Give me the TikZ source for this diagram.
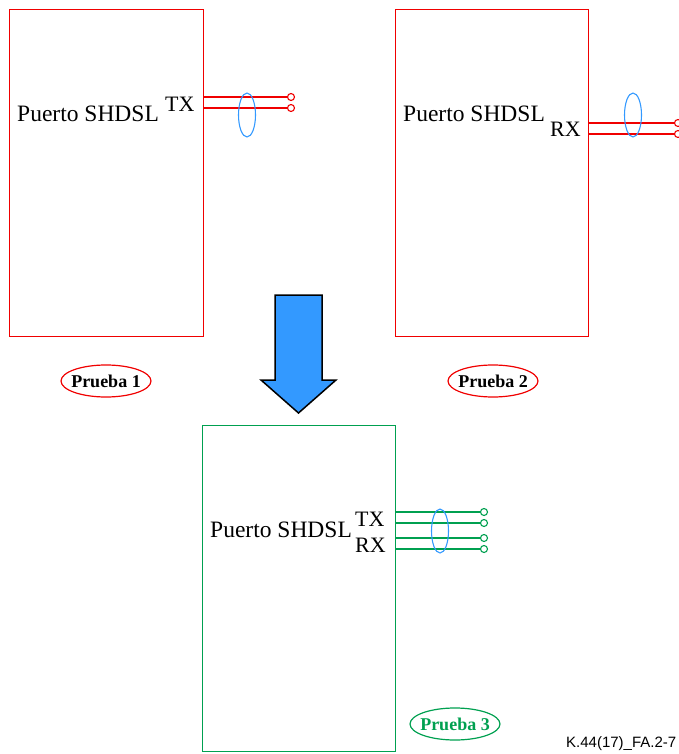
\documentclass[tikz,border=0pt]{standalone}
\usepackage{fontspec}
\setmainfont{Liberation Serif}
\newfontfamily\captionsans{Liberation Sans}
\usetikzlibrary{shapes.geometric}
\definecolor{portred}{RGB}{240,0,0}
\definecolor{portgreen}{RGB}{0,160,80}
\definecolor{pairblue}{RGB}{51,153,255}

\begin{document}
\begin{tikzpicture}[x=1pt,y=-1pt,
  portbox/.style={draw, line width=1.2pt, rectangle, anchor=north west, inner sep=0pt},
  porttext/.style={anchor=base west, inner sep=0pt, font=\fontsize{23.5}{28}\selectfont},
  sigtext/.style={anchor=base west, inner sep=0pt, font=\fontsize{22}{26}\selectfont},
  wire/.style={line width=1.2pt},
  terminal/.style={circle, draw, line width=1.1pt, fill=white, minimum size=7pt, inner sep=0pt},
  pairmark/.style={ellipse, draw=pairblue, line width=1.1pt, minimum width=17pt, minimum height=44pt, inner sep=0pt},
  testtag/.style={inner sep=0pt, font=\fontsize{18}{22}\selectfont\bfseries},
  tagring/.style={line width=1.2pt, x radius=45pt, y radius=16pt}]
\useasboundingbox (0,0) rectangle (679,754);

% ---- Port 1: transmit pair ----
\node[portbox, draw=portred, minimum width=194pt, minimum height=327pt] (b1) at (9,9) {};
\node[porttext] (p1) at (17,122) {Puerto SHDSL};
\node[sigtext] (tx1) at (165,112) {TX};
\node[terminal, draw=portred] (c1a) at (291,97) {};
\node[terminal, draw=portred] (c1b) at (291,108) {};
\draw[wire, portred] (b1.east |- c1a) -- (c1a);
\draw[wire, portred] (b1.east |- c1b) -- (c1b);
\node[pairmark] (e1) at (247,115) {};
\node[testtag] (t1) at (106,381) {Prueba 1};
\draw[tagring, portred] (t1.center) ellipse [];

% ---- Port 2: receive pair ----
\node[portbox, draw=portred, minimum width=193pt, minimum height=327pt] (b2) at (395,9) {};
\node[porttext] (p2) at (403,122) {Puerto SHDSL};
\node[sigtext] (rx2) at (550,137) {RX};
\node[terminal, draw=portred] (c2a) at (678,123) {};
\node[terminal, draw=portred] (c2b) at (678,134) {};
\draw[wire, portred] (b2.east |- c2a) -- (c2a);
\draw[wire, portred] (b2.east |- c2b) -- (c2b);
\node[pairmark] (e2) at (633,115) {};
\node[testtag] (t2) at (493,381) {Prueba 2};
\draw[tagring, portred] (t2.center) ellipse [];

% ---- Transition arrow ----
\draw[line width=1.5pt, fill=pairblue, line join=miter]
  (275,295) -- (322,295) -- (322,380) -- (336,380) -- (298.5,413)
  -- (261,380) -- (275,380) -- cycle;

% ---- Port 3: both pairs ----
\node[portbox, draw=portgreen, minimum width=193pt, minimum height=326pt] (b3) at (202,425) {};
\node[porttext] (p3) at (210,537) {Puerto SHDSL};
\node[sigtext] (tx3) at (355,526) {TX};
\node[sigtext] (rx3) at (355,552) {RX};
\node[terminal, draw=portgreen] (c3a) at (484,512) {};
\node[terminal, draw=portgreen] (c3b) at (484,523) {};
\node[terminal, draw=portgreen] (c3c) at (484,538) {};
\node[terminal, draw=portgreen] (c3d) at (484,549) {};
\foreach \c in {c3a,c3b,c3c,c3d}
  \draw[wire, portgreen] (b3.east |- \c) -- (\c);
\node[pairmark] (e3) at (440,531) {};
\node[testtag, text=portgreen] (t3) at (455,724) {Prueba 3};
\draw[tagring, portgreen] (t3.center) ellipse [];

% ---- Figure reference ----
\node[anchor=base west, inner sep=0pt, font=\captionsans\fontsize{15}{18}\selectfont] (ref) at (566,747) {K.44(17)\_FA.2-7};
\end{tikzpicture}
\end{document}
